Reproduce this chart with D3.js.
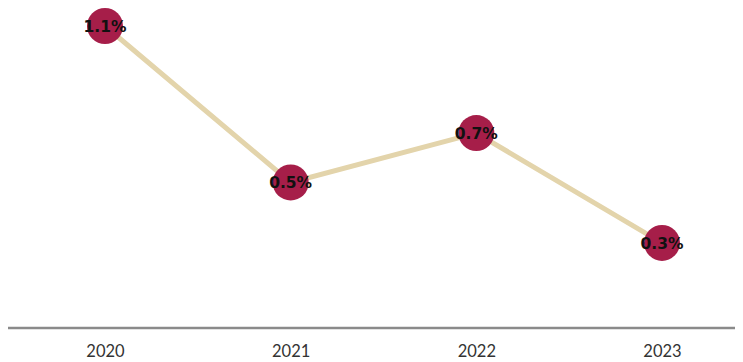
<!DOCTYPE html>
<html><head><meta charset="utf-8">
<script src="https://cdn.jsdelivr.net/npm/d3@7"></script>
<style>html,body{margin:0;padding:0;background:#fff;}svg{display:block;}</style>
</head><body>
<svg id="chart" width="743" height="362"></svg>
<script>
const years = ["2020", "2021", "2022", "2023"];
const values = [1.1, 0.53, 0.71, 0.31];
const labels = ["1.1%", "0.5%", "0.7%", "0.3%"];

const svg = d3.select("#chart");
const x = d3.scalePoint().domain(years).range([105, 662]);
const y = d3.scaleLinear().domain([0, 1.1]).range([328, 26]);
const data = years.map((yr, i) => ({yr, v: values[i], label: labels[i]}));

// axis
const axis = svg.append("g").attr("transform", "translate(0,328)")
  .call(d3.axisBottom(x).tickSize(0).tickPadding(17));
axis.select(".domain").remove();
axis.append("line").attr("x1", 8).attr("x2", 735).attr("stroke", "#8a8a8a").attr("stroke-width", 2.5);
axis.selectAll("text").attr("font-family", "Lato, 'DejaVu Sans', sans-serif").attr("font-size", 16.5).attr("fill", "#333");

svg.append("path").datum(data)
  .attr("fill", "none").attr("stroke", "#e3d4ab").attr("stroke-width", 5)
  .attr("d", d3.line().x(d => x(d.yr)).y(d => y(d.v)));

svg.selectAll("circle.pt").data(data).join("circle").attr("class", "pt")
  .attr("cx", d => x(d.yr)).attr("cy", d => y(d.v)).attr("r", 18)
  .attr("fill", "#a61e49");

svg.selectAll("text.lbl").data(data).join("text").attr("class", "lbl")
  .attr("x", d => x(d.yr)).attr("y", d => y(d.v) + 6)
  .attr("text-anchor", "middle")
  .attr("font-family", "'DejaVu Sans', sans-serif").attr("font-weight", "bold")
  .attr("font-size", 15.5).attr("fill", "#111")
  .text(d => d.label);
</script>
</body></html>
